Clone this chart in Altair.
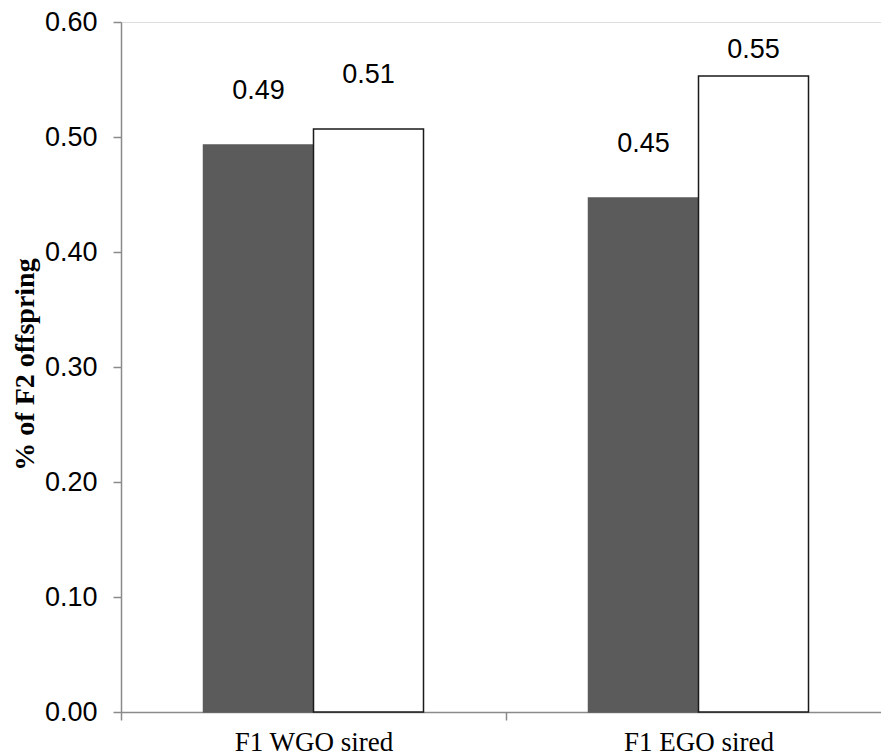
import altair as alt
import pandas as pd

# Categories and the two series of proportions
categories = ["F1 WGO sired", "F1 EGO sired"]
series_names = ["Series 1", "Series 2"]
series_1 = [0.493, 0.447]
series_2 = [0.507, 0.553]
y_ticks = [0.0, 0.1, 0.2, 0.3, 0.4, 0.5, 0.6]

rows = []
for cat, a, b in zip(categories, series_1, series_2):
    rows.append({"category": cat, "series": series_names[0], "value": a})
    rows.append({"category": cat, "series": series_names[1], "value": b})
df = pd.DataFrame(rows)

x_enc = alt.X(
    "category:N",
    sort=categories,
    scale=alt.Scale(paddingInner=0, paddingOuter=0, range=[0, 770]),
    axis=alt.Axis(
        title=None,
        labelAngle=0,
        labelFont="Liberation Serif",
        labelFontSize=27,
        labelColor="black",
        labelPadding=9,
        tickBand="extent",
        tickSize=8,
        tickColor="#8a8a8a",
        tickWidth=1.5,
        domainColor="#8a8a8a",
        domainWidth=1.5,
    ),
)
xoff_enc = alt.XOffset(
    "series:N",
    sort=series_names,
    scale=alt.Scale(paddingOuter=0.75, paddingInner=0),
)

bars = alt.Chart(df).mark_bar(strokeWidth=1.5).encode(
    x=x_enc,
    xOffset=xoff_enc,
    y=alt.Y(
        "value:Q",
        scale=alt.Scale(domain=[0, 0.6], nice=False, zero=True),
        axis=alt.Axis(
            values=y_ticks,
            format=".2f",
            title="% of F2 offspring",
            titleFont="Liberation Serif",
            titleFontWeight="bold",
            titleFontSize=28,
            titleColor="black",
            titleAngle=-90,
            titleX=-96,
            titleY=342,
            titleAlign="center",
            titleBaseline="middle",
            labelFont="Liberation Sans",
            labelFontSize=27,
            labelColor="black",
            labelPadding=16,
            tickSize=8,
            tickColor="#8a8a8a",
            tickWidth=1.5,
            domainColor="#8a8a8a",
            domainWidth=1.5,
            grid=False,
        ),
    ),
    fill=alt.Fill(
        "series:N",
        sort=series_names,
        scale=alt.Scale(domain=series_names, range=["#5b5b5b", "#ffffff"]),
        legend=None,
    ),
    stroke=alt.Stroke(
        "series:N",
        sort=series_names,
        scale=alt.Scale(domain=series_names, range=["#5b5b5b", "#1a1a1a"]),
        legend=None,
    ),
)

labels = (
    alt.Chart(df)
    .transform_calculate(label_y="min(datum.value + 0.047, 0.576)")
    .mark_text(font="Liberation Sans", fontSize=27, color="black", baseline="middle")
    .encode(
        x=alt.X("category:N", sort=categories),
        xOffset=alt.XOffset("series:N", sort=series_names),
        y=alt.Y("label_y:Q"),
        text=alt.Text("value:Q", format=".2f"),
    )
)

chart = (
    alt.layer(bars, labels)
    .properties(
        width=760,
        height=690,
        autosize=alt.AutoSizeParams(type="none"),
        padding={"left": 121, "top": 22, "right": 0, "bottom": 44},
    )
    .configure_view(stroke=None)
    .configure(background="white")
)

chart.save("out.html", embed_options={"renderer": "svg", "actions": False})
